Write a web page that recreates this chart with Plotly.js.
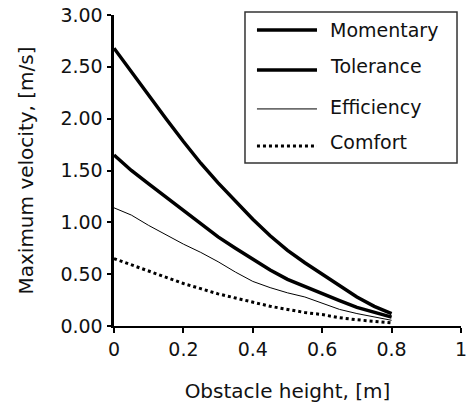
<!DOCTYPE html>
<html>
<head>
<meta charset="utf-8">
<script src="https://cdn.plot.ly/plotly-3.0.1.min.js"></script>
<style>html,body{margin:0;padding:0;background:#fff;}#chart{width:469px;height:408px;}</style>
</head>
<body>
<div id="chart"></div>
<script>
// Data
const obstacleHeight = [0, 0.05, 0.1, 0.15, 0.2, 0.25, 0.3, 0.35, 0.4, 0.45, 0.5, 0.55, 0.6, 0.65, 0.7, 0.75, 0.8];
const momentary  = [2.68, 2.45, 2.23, 2.00, 1.78, 1.57, 1.38, 1.20, 1.03, 0.87, 0.73, 0.61, 0.50, 0.39, 0.28, 0.19, 0.12];
const tolerance  = [1.65, 1.50, 1.37, 1.24, 1.12, 0.99, 0.86, 0.75, 0.645, 0.54, 0.45, 0.38, 0.31, 0.245, 0.18, 0.13, 0.085];
const efficiency = [1.14, 1.07, 0.97, 0.88, 0.79, 0.71, 0.62, 0.52, 0.43, 0.37, 0.32, 0.28, 0.22, 0.16, 0.12, 0.09, 0.055];
const comfort    = [0.65, 0.59, 0.53, 0.47, 0.41, 0.36, 0.31, 0.27, 0.23, 0.19, 0.16, 0.13, 0.11, 0.08, 0.06, 0.045, 0.03];
const seriesNames = ["Momentary", "Tolerance", "Efficiency", "Comfort"];
const xTickVals = [0, 0.2, 0.4, 0.6, 0.8, 1];
const xTickText = ["0", "0.2", "0.4", "0.6", "0.8", "1"];

const seriesValues = [momentary, tolerance, efficiency, comfort];
const lineStyles = [
  {color: "#000", width: 3.5, dash: "solid"},
  {color: "#000", width: 3.5, dash: "solid"},
  {color: "#000", width: 1, dash: "solid"},
  {color: "#000", width: 3, dash: "dot"}
];

const traces = seriesValues.map((vals, i) => ({
  x: obstacleHeight, y: vals, type: "scatter", mode: "lines",
  name: seriesNames[i], line: lineStyles[i], showlegend: false
}));

// hand-drawn legend box (paper coordinates)
const legendRows = [0.952, 0.823, 0.698, 0.579];
const textRows = [0.952, 0.836, 0.704, 0.592];
const shapes = [{type: "rect", xref: "paper", yref: "paper", x0: 0.3775, x1: 0.9885, y0: 0.524, y1: 1.010,
  line: {color: "#333", width: 1.5}, fillcolor: "rgba(255,255,255,0)"}];
const annotations = [];
seriesNames.forEach((n, i) => {
  shapes.push({type: "line", xref: "paper", yref: "paper", x0: 0.412, x1: 0.585, y0: legendRows[i], y1: legendRows[i], line: lineStyles[i]});
  annotations.push({xref: "paper", yref: "paper", x: 0.617, y: textRows[i], xanchor: "left", yanchor: "middle",
    text: n, showarrow: false, font: {family: "DejaVu Sans", size: 19, color: "#111"}});
});

const layout = {
  width: 469, height: 408,
  margin: {l: 114, r: 8, t: 15, b: 82},
  paper_bgcolor: "#fff", plot_bgcolor: "#fff",
  font: {family: "DejaVu Sans", size: 19, color: "#111"},
  xaxis: {
    range: [0, 1], tickvals: xTickVals, ticktext: xTickText, ticklabeloverflow: "allow",
    showgrid: false, zeroline: false, showline: true, linecolor: "#000", linewidth: 2,
    ticks: "outside", ticklen: 5, tickwidth: 2, tickcolor: "#000",
    title: {text: "Obstacle height, [m]", font: {size: 20}, standoff: 25}
  },
  yaxis: {
    range: [0, 3], dtick: 0.5, tickformat: ".2f",
    showgrid: false, zeroline: false, showline: true, linecolor: "#000", linewidth: 3.5,
    ticks: "outside", ticklen: 4, tickwidth: 2, tickcolor: "#000",
    title: {text: "Maximum velocity, [m/s]", font: {size: 20}, standoff: 22}
  },
  shapes: shapes, annotations: annotations
};

Plotly.newPlot("chart", traces, layout, {displayModeBar: false, staticPlot: true});
</script>
</body>
</html>
